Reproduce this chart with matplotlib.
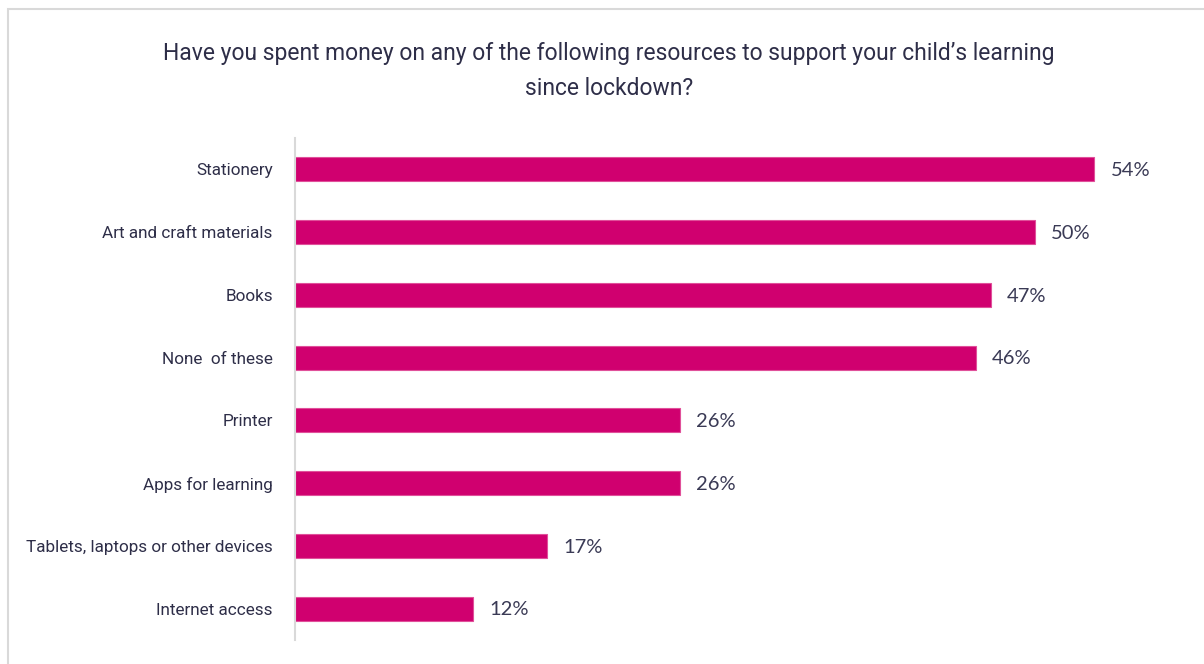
import matplotlib
matplotlib.use("Agg")
import matplotlib.pyplot as plt
from matplotlib.patches import Rectangle

categories = ["Stationery", "Art and craft materials", "Books", "None  of these",
              "Printer", "Apps for learning", "Tablets, laptops or other devices",
              "Internet access"]
values = [54, 50, 47, 46, 26, 26, 17, 12]
value_labels = ["54%", "50%", "47%", "46%", "26%", "26%", "17%", "12%"]
title = "Have you spent money on any of the following resources to support your child\u2019s learning\nsince lockdown?"

bar_color = "#D0006F"
text_color = "#2E2E48"
val_color = "#3A3A55"
label_font = "Roboto"

fig = plt.figure(figsize=(12.04, 6.64), dpi=100)
fig.patches.append(Rectangle((8/1204, -0.01), 1.02, (664-9)/664 + 0.01, transform=fig.transFigure,
                             fill=False, edgecolor="#D9D9D9", linewidth=1.5))

ax = fig.add_axes([295/1204, 1 - 640/664, (1183-295)/1204, (640-138)/664])
y = list(range(len(categories)))
ax.barh(y, values, height=0.38, color=bar_color, edgecolor="#E0509A", linewidth=0.8)
ax.set_xlim(0, 60)
ax.set_ylim(7.5, -0.5)
ax.set_yticks(y)
ax.set_yticklabels(categories, fontsize=12.3, color=text_color, family=label_font)
ax.tick_params(axis="y", length=0, pad=16)
ax.set_xticks([])
for s in ["top", "right", "bottom"]:
    ax.spines[s].set_visible(False)
ax.spines["left"].set_color("#D9D9D9")
ax.spines["left"].set_linewidth(1.5)

for yi, v, lab in zip(y, values, value_labels):
    ax.text(v + 1.1, yi + 0.02, lab, va="center", ha="left", fontsize=14.5,
            color=val_color, family="Lato")

fig.text(609/1204, 1 - 71/664, title, ha="center", va="center", fontsize=16.5,
         color=text_color, linespacing=1.65, family=label_font)

fig.savefig("out.png", dpi=100)
